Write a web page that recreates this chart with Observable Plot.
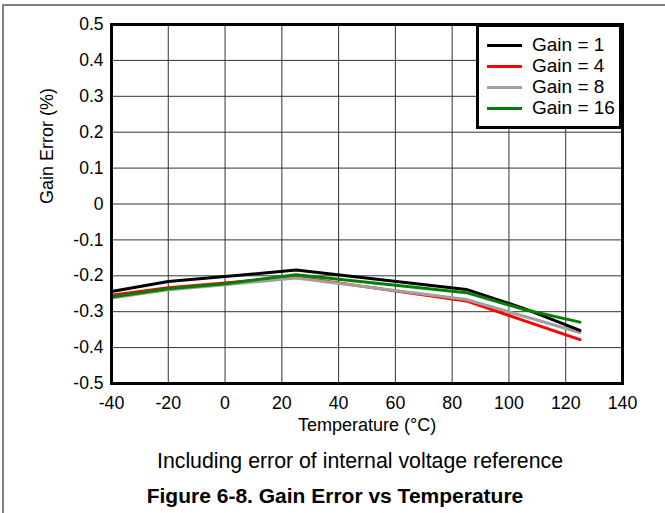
<!DOCTYPE html>
<html>
<head>
<meta charset="utf-8">
<script src="https://cdn.jsdelivr.net/npm/d3@7"></script>
<script src="https://cdn.jsdelivr.net/npm/@observablehq/plot@0.6"></script>
<style>
  html, body { margin: 0; padding: 0; background: #fff; }
  #wrap { position: relative; width: 665px; height: 513px; overflow: hidden; font-family: "Liberation Sans", Arial, sans-serif; }
  #chart { position: absolute; left: 0; top: 0; }
  .border-top { position: absolute; left: 3px; top: 4px; width: 662px; height: 0; border-top: 2px solid #808080; }
  .border-left { position: absolute; left: 2px; top: 4px; width: 0; height: 509px; border-left: 2px solid #808080; }
  #legend { position: absolute; left: 476px; top: 24px; width: 140px; height: 99px; border: 3px solid #000; background: #fff; }
  .row { position: absolute; left: 0; height: 20px; font-size: 19px; line-height: 20px; color: #000; }
  .row .sw { position: absolute; left: 8px; top: 9px; width: 35px; height: 3px; }
  .row .lb { position: absolute; left: 53px; top: 0; white-space: nowrap; }
  #caption { position: absolute; left: 0; width: 720px; top: 449px; text-align: center; font-size: 21.3px; line-height: 24px; color: #000; }
  #title { position: absolute; left: 0; width: 670px; top: 484px; text-align: center; font-size: 21px; font-weight: bold; line-height: 24px; color: #000; }
</style>
</head>
<body>
<div id="wrap">
  <div id="chart"></div>
  <div class="border-top"></div>
  <div class="border-left"></div>
  <div id="legend"></div>
  <div id="caption">Including error of internal voltage reference</div>
  <div id="title">Figure 6-8. Gain Error vs Temperature</div>
</div>
<script>
// Data
const temps  = [-40, -20, 0, 25, 85, 105, 125];
const gain1  = [-0.244, -0.216, -0.202, -0.184, -0.238, -0.290, -0.352];
const gain4  = [-0.254, -0.233, -0.220, -0.203, -0.270, -0.324, -0.378];
const gain8  = [-0.262, -0.239, -0.225, -0.206, -0.266, -0.312, -0.358];
const gain16 = [-0.259, -0.236, -0.222, -0.197, -0.247, -0.293, -0.329];

const seriesNames  = ["Gain = 1", "Gain = 4", "Gain = 8", "Gain = 16"];
const seriesColors = ["#000000", "#ff0000", "#a0a0a0", "#008000"];
const seriesValues = [gain1, gain4, gain8, gain16];
const drawOrder = [1, 2, 0, 3];

const xTicks = [-40, -20, 0, 20, 40, 60, 80, 100, 120, 140];
const yTicks = [-0.5, -0.4, -0.3, -0.2, -0.1, 0, 0.1, 0.2, 0.3, 0.4, 0.5];

const rows = [];
seriesValues.forEach((vals, si) => {
  vals.forEach((v, i) => rows.push({ series: seriesNames[si], t: temps[i], v }));
});

const lineMarks = drawOrder.map(si =>
  Plot.line(rows.filter(d => d.series === seriesNames[si]), {
    x: "t", y: "v", stroke: seriesColors[si], strokeWidth: 3, strokeLinejoin: "round"
  })
);

const chart = Plot.plot({
  width: 665,
  height: 440,
  marginLeft: 111,
  marginRight: 43,
  marginTop: 24,
  marginBottom: 57,
  style: { fontFamily: "'Liberation Sans', Arial, sans-serif", fontSize: "17.5px", background: "#fff", color: "#000" },
  x: { domain: [-40, 140], ticks: xTicks, tickFormat: d => String(d), tickSize: 0, tickPadding: 13, label: null },
  y: { domain: [-0.5, 0.5], ticks: yTicks, tickFormat: d => (Math.abs(d) < 1e-9 ? "0" : d.toFixed(1)), tickSize: 0, tickPadding: 8, label: null },
  marks: [
    Plot.gridX(xTicks, { stroke: "#333", strokeOpacity: 1, strokeWidth: 1 }),
    Plot.gridY(yTicks, { stroke: "#333", strokeOpacity: 1, strokeWidth: 1 }),
    ...lineMarks,
    Plot.frame({ stroke: "#000", strokeWidth: 3 }),
    Plot.axisX({ ticks: xTicks, tickFormat: d => String(d), tickSize: 0, tickPadding: 13, label: null, fontSize: "17.8px" }),
    Plot.axisY({ ticks: yTicks, tickFormat: d => (Math.abs(d) < 1e-9 ? "0" : d.toFixed(1)), tickSize: 0, tickPadding: 8, label: null, fontSize: "17.5px" }),
    Plot.text(["Temperature (°C)"], { frameAnchor: "bottom", dy: 47, fontSize: 18, fill: "#000" }),
    Plot.text(["Gain Error (%)"], { frameAnchor: "left", dx: -64, rotate: -90, fontSize: 18, fill: "#000" })
  ]
});
document.getElementById("chart").appendChild(chart);

// Legend
const legend = document.getElementById("legend");
seriesNames.forEach((name, i) => {
  const row = document.createElement("div");
  row.className = "row";
  row.style.top = (8 + i * 21) + "px";
  row.innerHTML = `<div class="sw" style="background:${seriesColors[i]}"></div><div class="lb">${name}</div>`;
  legend.appendChild(row);
});
</script>
</body>
</html>
